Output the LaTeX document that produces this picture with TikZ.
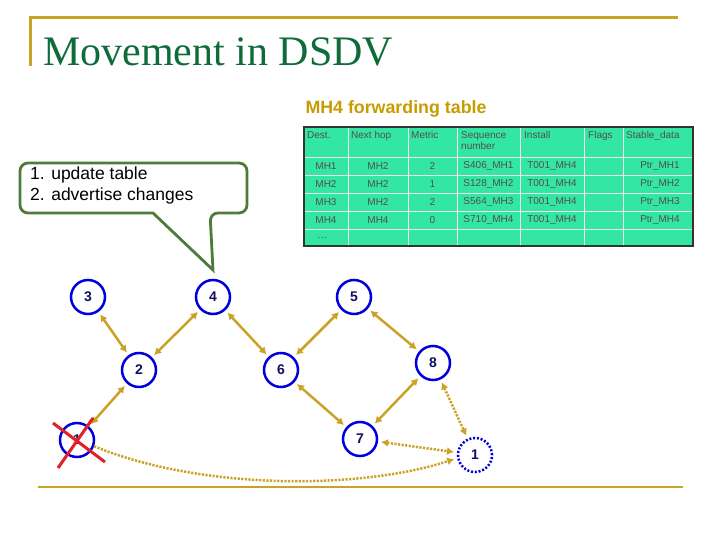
\documentclass[tikz,border=0pt]{standalone}
\usepackage{fontspec}
\setmainfont{Liberation Sans}
\newfontfamily\titlefont{Liberation Serif}
\usetikzlibrary{arrows.meta}
\definecolor{gold}{HTML}{C9A227}
\definecolor{titlegreen}{HTML}{0F6B3A}
\definecolor{tabgold}{HTML}{C89B00}
\definecolor{tabfill}{HTML}{33E6A1}
\definecolor{tabtext}{HTML}{505050}
\definecolor{calloutgreen}{HTML}{4E7A3A}
\definecolor{nodeblue}{HTML}{0000DD}
\definecolor{labelnavy}{HTML}{101060}
\definecolor{crossred}{HTML}{E0202A}
\begin{document}
\begin{tikzpicture}[x=1pt,y=-1pt,
  frame/.style={draw=gold,line width=3pt},
  mh/.style={circle,draw=nodeblue,line width=2.5pt,minimum size=34pt,inner sep=0pt,
    text=labelnavy,font=\bfseries\fontsize{14}{14}\selectfont},
  mhdot/.style={mh,dash pattern=on 2pt off 1.8pt},
  link/.style={draw=gold,line width=2.5pt,arrows={Latex[length=7pt,width=8pt]-Latex[length=7pt,width=8pt]},shorten <=3pt,shorten >=3pt},
  dotlink/.style={link,dash pattern=on 2.2pt off 1.4pt},
  onelink/.style={draw=gold,line width=2.5pt,dash pattern=on 2.2pt off 1.4pt,arrows={-Latex[length=7pt,width=8pt]},shorten >=3pt},
  hdr/.style={anchor=north west,inner sep=0pt,text=tabtext,font=\fontsize{10}{11}\selectfont,align=left},
  cell/.style={inner sep=0pt,text=tabtext,font=\fontsize{10}{11}\selectfont},
  cross/.style={draw=crossred,line width=3pt}
]
\useasboundingbox (0,0) rectangle (720,540);

% frame lines
\draw[frame] (30,66) -- (30,18) -- (678,18);
\draw[draw=gold,line width=2.5pt] (38,487) -- (683,487);

% title
\node[anchor=base west,inner sep=0pt,text=titlegreen,font=\titlefont\fontsize{42}{42}\selectfont] (title) at (43,66) {Movement in DSDV};

% table caption
\node[anchor=base,inner sep=0pt,text=tabgold,font=\bfseries\fontsize{17.8}{18}\selectfont] (caption) at (396,114) {MH4 forwarding table};

% table
\fill[tabfill] (304,127) rectangle (693,246);
\foreach \x in {348,408,457,520,584,623}
  \draw[white!85!gray,line width=0.8pt] (\x,127) -- (\x,246);
\foreach \y in {157,175,193,211,229}
  \draw[white!85!gray,line width=0.8pt] (304,\y) -- (693,\y);
\draw[black!80,line width=1.2pt] (304,127) rectangle (693,246);

\node[hdr] (h1) at (307,131) {Dest.};
\node[hdr] (h2) at (351,131) {Next hop};
\node[hdr] (h3) at (411,131) {Metric};
\node[hdr] (h4) at (461,131) {Sequence\\number};
\node[hdr] (h5) at (524,131) {Install};
\node[hdr] (h6) at (588,131) {Flags};
\node[hdr] (h7) at (626,131) {Stable\_data};

\foreach \y/\a/\b/\c/\d/\e/\f in {
  166/MH1/MH2/2/S406\_MH1/T001\_MH4/Ptr\_MH1,
  184/MH2/MH2/1/S128\_MH2/T001\_MH4/Ptr\_MH2,
  202/MH3/MH2/2/S564\_MH3/T001\_MH4/Ptr\_MH3,
  220/MH4/MH4/0/S710\_MH4/T001\_MH4/Ptr\_MH4}{
  \node[cell] at (326,\y) {\a};
  \node[cell] at (378,\y) {\b};
  \node[cell] at (432.5,\y) {\c};
  \node[cell] at (488.5,\y) {\d};
  \node[cell] at (552,\y) {\e};
  \node[cell] at (660,\y) {\f};
}
\node[cell] (dots) at (322,237.5) {\dots};

% callout
\draw[draw=calloutgreen,fill=white,line width=2.8pt,rounded corners=8pt]
  (20,163) -- (247,163) -- (247,213) -- (210,213) [sharp corners] -- (213,270) -- (153,213) [rounded corners=8pt] -- (20,213) -- cycle;
\node[anchor=north west,align=left,inner sep=0pt,font=\fontsize{17.5}{21}\selectfont] (callout) at (30,167) {1. update table\\2. advertise changes};

% nodes
\node[mh] (n3) at (88,297) {3};
\node[mh] (n4) at (213,297) {4};
\node[mh] (n5) at (354,297) {5};
\node[mh] (n2) at (139,370) {2};
\node[mh] (n6) at (281,370) {6};
\node[mh] (n8) at (433,363) {8};
\node[mh] (n7) at (360,439) {7};
\node[mh] (old) at (77,440) {1};
\node[mhdot] (n1) at (475,455) {1};

% links
\draw[link] (n3) -- (n2);
\draw[link] (n2) -- (n4);
\draw[link] (n4) -- (n6);
\draw[link] (n6) -- (n5);
\draw[link] (n5) -- (n8);
\draw[link] (n6) -- (n7);
\draw[link] (n7) -- (n8);
\draw[link] (n2) -- (old);
\draw[dotlink] (n8) -- (n1);
\draw[dotlink] (n7) -- (n1);
\draw[onelink] (old.-20) .. controls (200,490) and (360,490) .. (n1.190);

% red cross
\draw[cross] (53,423) -- (105,462);
\draw[cross] (93,418) -- (58,468);
\end{tikzpicture}
\end{document}
